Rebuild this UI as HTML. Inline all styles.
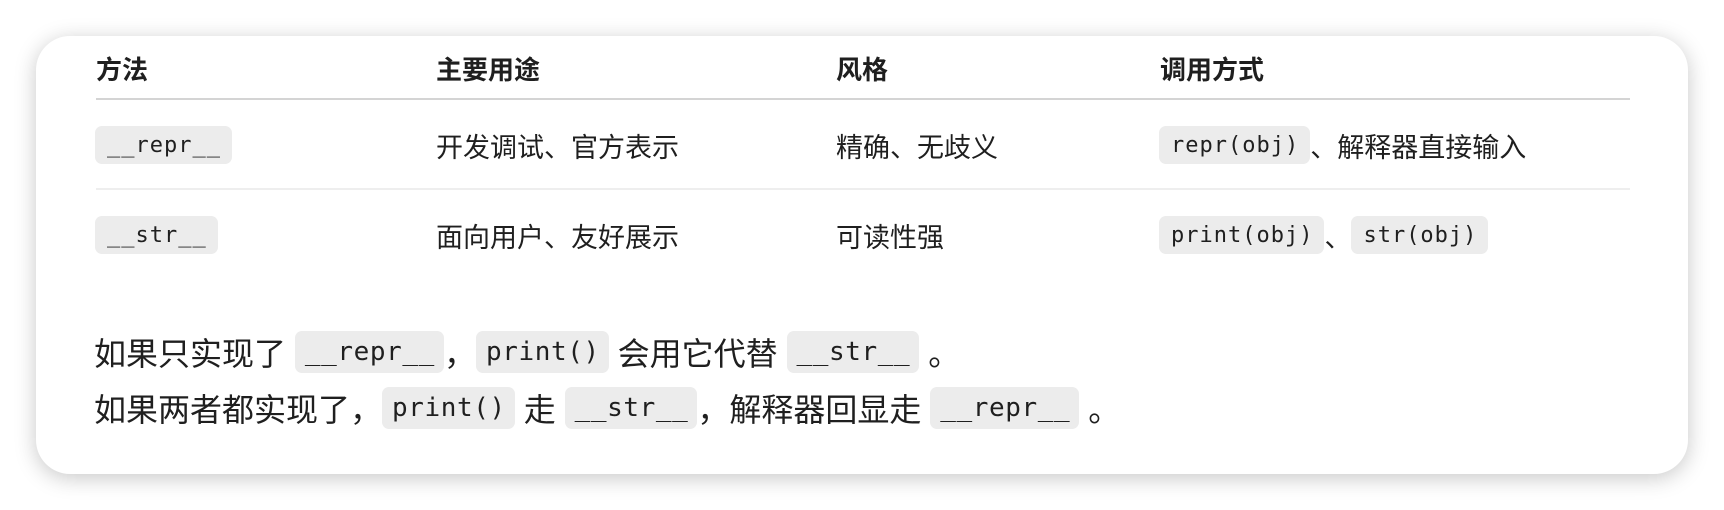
<!DOCTYPE html>
<html><head><meta charset="utf-8"><style>
*{margin:0;padding:0;box-sizing:border-box}
body{width:1724px;height:510px;background:#fff;position:relative;overflow:hidden;font-family:"Liberation Sans","Noto Sans CJK SC",sans-serif;color:#1f1f1f}
.card{position:absolute;left:36px;top:36px;width:1652px;height:438px;background:#fff;border-radius:34px;box-shadow:0 4px 22px rgba(0,0,0,0.22)}
.r{position:absolute;display:flex;align-items:center;white-space:nowrap}
.h{font-weight:bold;font-size:26px}
.t{font-size:27px}
code{font-family:"DejaVu Sans Mono","Liberation Mono",monospace;background:#ececec;border-radius:7px;display:inline-flex;align-items:center}
.tc{font-size:22px;letter-spacing:1px;height:38px;padding:0 11px 0 12px}
.pc{font-size:26px;letter-spacing:0.6px;height:42px;padding:0 9px 0 10px}
.line{position:absolute;left:96px;width:1534px}
.p{font-size:32px}
</style></head><body>
<div class="card"></div>
<div class="r h" style="left:96px;top:50px">方法</div>
<div class="r h" style="left:436px;top:50px">主要用途</div>
<div class="r h" style="left:836px;top:50px">风格</div>
<div class="r h" style="left:1160px;top:50px">调用方式</div>
<div class="line" style="top:98px;height:2px;background:#d4d4d4"></div>

<div class="r t" style="left:95px;top:126px;height:38px"><code class="tc">__repr__</code></div>
<div class="r t" style="left:436px;top:126px;height:38px">开发调试、官方表示</div>
<div class="r t" style="left:836px;top:126px;height:38px">精确、无歧义</div>
<div class="r t" style="left:1159px;top:126px;height:38px"><code class="tc">repr(obj)</code>、解释器直接输入</div>
<div class="line" style="top:188px;height:2px;background:#eeeeee"></div>

<div class="r t" style="left:95px;top:216px;height:38px"><code class="tc">__str__</code></div>
<div class="r t" style="left:436px;top:216px;height:38px">面向用户、友好展示</div>
<div class="r t" style="left:836px;top:216px;height:38px">可读性强</div>
<div class="r t" style="left:1159px;top:216px;height:38px"><code class="tc">print(obj)</code>、<code class="tc">str(obj)</code></div>

<div class="r p" style="left:94px;top:331px;height:42px">如果只实现了&nbsp;<code class="pc">__repr__</code>，<code class="pc">print()</code>&nbsp;会用它代替&nbsp;<code class="pc">__str__</code>&nbsp;。</div>
<div class="r p" style="left:94px;top:387px;height:42px">如果两者都实现了，<code class="pc">print()</code>&nbsp;走&nbsp;<code class="pc">__str__</code>，解释器回显走&nbsp;<code class="pc">__repr__</code>&nbsp;。</div>
</body></html>
